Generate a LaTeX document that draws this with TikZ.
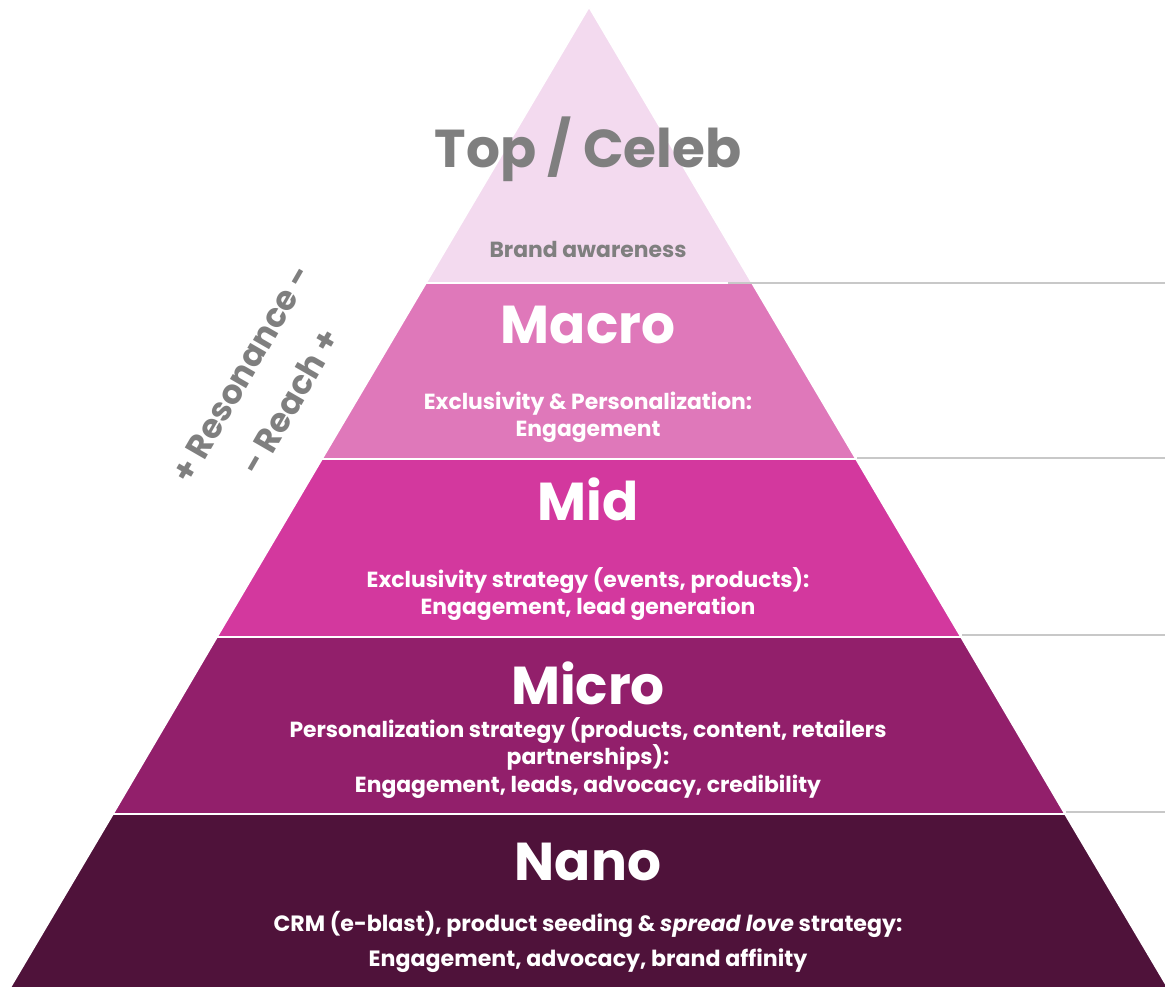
\documentclass[tikz,border=0pt]{standalone}
\usepackage{fontspec}
\setmainfont{Poppins}
\definecolor{topband}{HTML}{F3DAEF}
\definecolor{macroband}{HTML}{DF78BA}
\definecolor{midband}{HTML}{D3389E}
\definecolor{microband}{HTML}{921F6B}
\definecolor{nanoband}{HTML}{4F123A}
\definecolor{textgrey}{HTML}{7F7F7F}
\definecolor{rulegrey}{HTML}{C8C8C8}
\begin{document}
\begin{tikzpicture}[
    x=0.75pt, y=-0.75pt,
    tier/.style={draw=white, line width=1.2pt},
    title/.style={font=\fontsize{40}{48}\selectfont\bfseries, text=white, anchor=base},
    caption/.style={font=\fontsize{16.4}{20.5}\selectfont\bfseries, text=white, align=center},
    rule/.style={draw=rulegrey, line width=1.3pt}
]
    \useasboundingbox (0,0) rectangle (1165,988);

    % Tiers
    \draw[tier, fill=topband] (589,7) -- (752,283) -- (426,283) -- cycle;
    \draw[tier, fill=macroband] (426,283) -- (752,283) -- (856,459) -- (322,459) -- cycle;
    \draw[tier, fill=midband] (322,459) -- (856,459) -- (961,637) -- (217,637) -- cycle;
    \draw[tier, fill=microband] (217,637) -- (961,637) -- (1065,814) -- (113,814) -- cycle;
    \draw[tier, fill=nanoband] (113,814) -- (1065,814) -- (1168,988) -- (10,988) -- cycle;

    % Side rules
    \draw[rule] (728,283) -- (1165,283);
    \draw[rule] (857,458) -- (1165,458);
    \draw[rule] (962,635) -- (1165,635);
    \draw[rule] (1066,812) -- (1165,812);

    % Top / Celeb
    \node[title, text=textgrey] (top) at (588,168) {Top / Celeb};
    \node[caption, text=textgrey, anchor=base] (topnote) at (588,258) {Brand awareness};

    % Macro
    \node[title] (macro) at (588,344) {Macro};
    \node[caption] (macronote) at (588,417) {Exclusivity \& Personalization:\\Engagement};

    % Mid
    \node[title] (mid) at (588,520) {Mid};
    \node[caption] (midnote) at (588,594) {Exclusivity strategy (events, products):\\Engagement, lead generation};

    % Micro
    \node[title] (micro) at (588,704) {Micro};
    \node[caption] (micronote) at (588,758) {Personalization strategy (products, content, retailers\\partnerships):\\Engagement, leads, advocacy, credibility};

    % Nano
    \node[title] (nano) at (588,880) {Nano};
    \node[caption, font=\fontsize{16.6}{26}\selectfont\bfseries] (nanonote) at (588,942) {CRM (e-blast), product seeding \& \textit{spread love} strategy:\\Engagement, advocacy, brand affinity};

    % Resonance / Reach
    \node[font=\fontsize{25}{42}\selectfont\bfseries, text=textgrey, align=center, rotate=60] (axis) at (266,388) {+ Resonance -\\- Reach +};

\end{tikzpicture}
\end{document}
